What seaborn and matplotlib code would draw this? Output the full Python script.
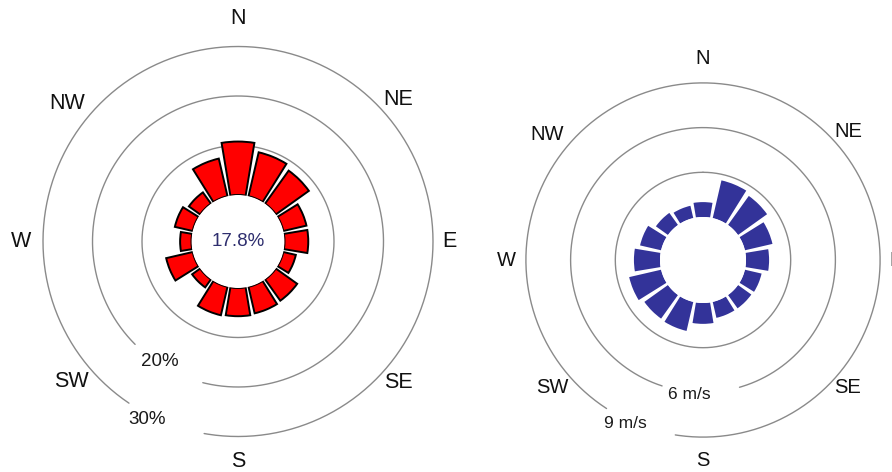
import numpy as np
import pandas as pd
import matplotlib
matplotlib.use('Agg')
import matplotlib.pyplot as plt
import seaborn as sns

# 16 compass sectors, clockwise from north
directions = ['N', 'NNE', 'NE', 'ENE', 'E', 'ESE', 'SE', 'SSE',
              'S', 'SSW', 'SW', 'WSW', 'W', 'WNW', 'NW', 'NNW']
sector_deg = [0, 22.5, 45, 67.5, 90, 112.5, 135, 157.5,
              180, 202.5, 225, 247.5, 270, 292.5, 315, 337.5]

# left rose: frequency of wind per direction (%)
freq_pct = [10.8, 9.1, 8.2, 4.8, 4.8, 2.6, 5.3, 5.5,
            5.7, 5.9, 2.0, 5.5, 2.3, 3.7, 2.8, 7.8]
calm_label = '17.8%'

# right rose: mean wind speed per direction (m/s)
speed_ms = [1.0, 2.6, 2.4, 1.9, 1.55, 1.15, 1.1, 1.1,
            1.4, 2.0, 1.95, 2.2, 1.75, 1.45, 1.0, 0.85]

compass_labels = ['N', 'NE', 'E', 'SE', 'S', 'SW', 'W', 'NW']

freq_rings = [10, 20, 30]
freq_ring_labels = [None, '20%', '30%']
speed_rings = [3, 6, 9]
speed_ring_labels = [None, '6 m/s', '9 m/s']

FIG_W, FIG_H = 892, 472

sns.set_theme(style='white')
plt.rcParams['font.family'] = ['Liberation Sans', 'DejaVu Sans']


def place_axes(fig, cx, cy, radius_px):
    """Polar axes centred on pixel (cx, cy) measured from the top-left."""
    rect = [(cx - radius_px) / FIG_W, (FIG_H - cy - radius_px) / FIG_H,
            2 * radius_px / FIG_W, 2 * radius_px / FIG_H]
    ax = fig.add_axes(rect, projection='polar')
    ax.set_theta_zero_location('N')
    ax.set_theta_direction(-1)
    ax.axis('off')
    return ax


def draw_rose(ax, values, color, edgecolor, lw, hole, rmax, px_per_unit,
              rings, ring_labels, gaps, label_pos, compass_pos, font_lab, font_ring):
    df = pd.DataFrame({'theta': np.radians(sector_deg), 'value': values})
    sns.barplot(data=df, x='theta', y='value', native_scale=True, orient='x',
                color=color, saturation=1, edgecolor=edgecolor, linewidth=lw,
                width=0.84, errorbar=None, ax=ax)
    ax.set_rorigin(-hole)
    ax.set_ylim(0, rmax)
    ax.axis('off')

    # rings, with a gap where the ring label sits
    for r, lab, gap, pos in zip(rings, ring_labels, gaps, label_pos):
        if gap is None:
            th = np.linspace(0, 360, 361)
        else:
            th = np.linspace(gap[1], gap[0] + 360, 300)
        ax.plot(np.radians(th), np.full(th.shape, r), color='#8a8a8a', lw=1.0, zorder=0)
        if lab is not None:
            ax.text(np.radians(pos[0]), pos[1], lab, ha='center', va='center',
                    fontsize=font_ring, color='#1a1a1a', clip_on=False)

    # compass labels, (angle in degrees, distance from centre in pixels)
    for lab, (deg, r_px) in zip(compass_labels, compass_pos):
        ax.text(np.radians(deg), r_px / px_per_unit - hole, lab,
                ha='center', va='center', fontsize=font_lab,
                color='#111111', clip_on=False)


fig = plt.figure(figsize=(FIG_W / 100, FIG_H / 100), dpi=100)
fig.patch.set_facecolor('white')

# left: frequency rose (4.95 px per %, hole radius 46.5 px)
left_scale = 4.95
left_hole, left_rmax = 46.5 / left_scale, 35
ax1 = place_axes(fig, 238, 241.5, left_scale * (left_rmax + left_hole))
draw_rose(ax1, freq_pct, '#ff0000', 'black', 1.4, left_hole, left_rmax, left_scale,
          freq_rings, freq_ring_labels,
          [None, (194, 225), (190, 214)],
          [None, (213, 19.6), (207, 31.0)],
          [(0, 223.5), (48.4, 214), (90, 211.5), (131.4, 213.6),
           (180, 220), (229.9, 217.5), (270, 217.3), (309, 220)],
          15.5, 13.5)
ax1.text(0, -left_hole, calm_label, ha='center', va='center',
         fontsize=13.5, color='#2e2e6e')

# right: mean speed rose (14.9 px per m/s, hole radius 43 px)
right_scale = 14.9
right_hole, right_rmax = 43 / right_scale, 10.6
ax2 = place_axes(fig, 703, 260, right_scale * (right_rmax + right_hole))
draw_rose(ax2, speed_ms, '#333399', 'none', 0, right_hole, right_rmax, right_scale,
          speed_rings, speed_ring_labels,
          [None, (164, 198), (189, 213)],
          [None, (186, 6.2), (205.5, 9.26)],
          [(0, 201.7), (48.5, 193.7), (90, 193.5), (131.3, 193),
           (180, 200), (229.9, 197.6), (270, 196.2), (308.8, 200.5)],
          14.5, 12.5)

fig.savefig('out.png', dpi=100, facecolor='white')
